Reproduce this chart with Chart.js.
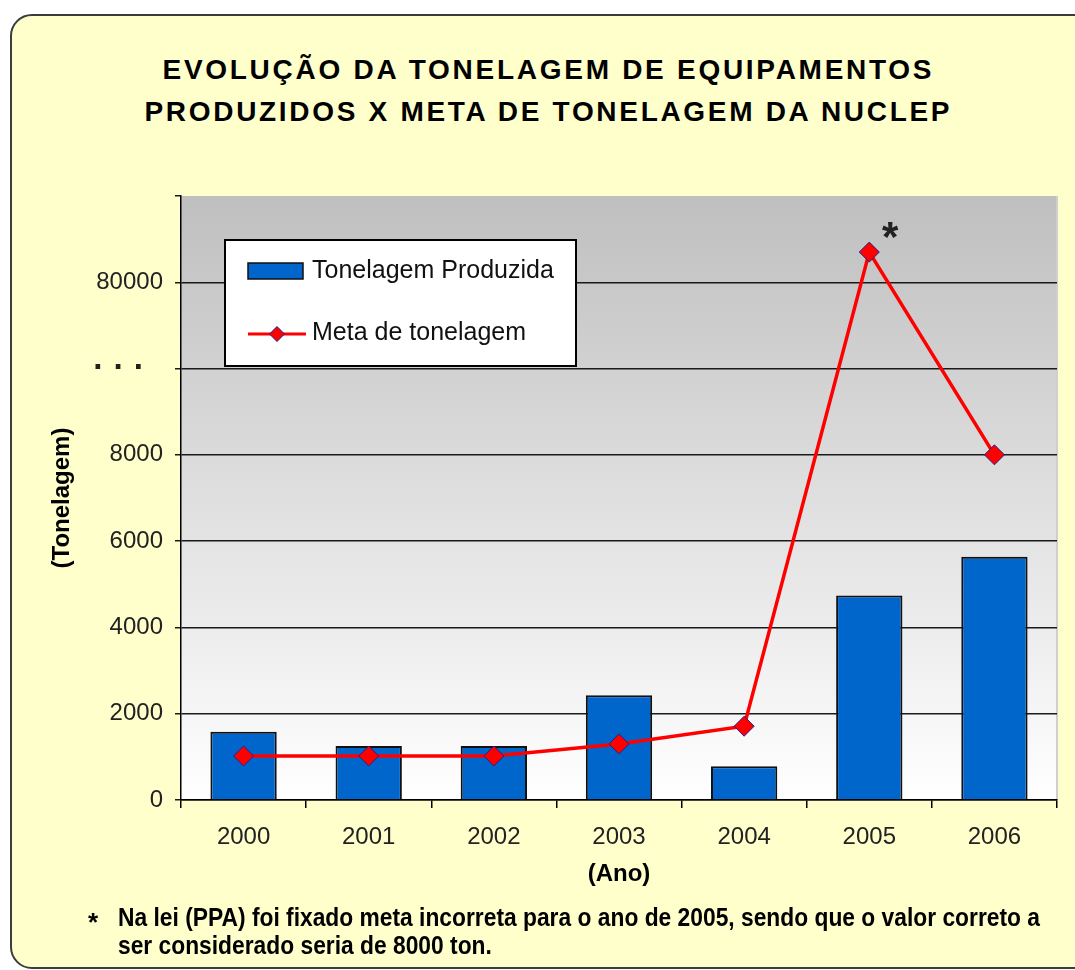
<!DOCTYPE html>
<html>
<head>
<meta charset="utf-8">
<script src="https://cdn.jsdelivr.net/npm/chart.js@4.4.1/dist/chart.umd.min.js"></script>
<style>
html,body{margin:0;padding:0;background:#fff;width:1075px;height:970px;overflow:hidden;position:relative;}
#frame{position:absolute;left:10px;top:14px;width:1090px;height:955px;box-sizing:border-box;border:2px solid #3c3c3c;border-radius:22px;background:#FFFFCC;}
#c{position:absolute;left:0;top:0;}
.txt{position:absolute;white-space:nowrap;line-height:1;color:#000;}
.title{font:bold 28px "Liberation Sans",Arial,sans-serif;}
.note{font:bold 26px "Liberation Sans Narrow","Arial Narrow","Liberation Sans",Arial,sans-serif;transform-origin:0 50%;}
</style>
</head>
<body>
<div id="frame"></div>
<div id="t1" class="txt title">EVOLUÇÃO DA TONELAGEM DE EQUIPAMENTOS</div>
<div id="t2" class="txt title">PRODUZIDOS X META DE TONELAGEM DA NUCLEP</div>
<canvas id="c" width="1075" height="970"></canvas>
<div id="nstar" class="txt note">*</div>
<div id="n1" class="txt note">Na lei (PPA) foi fixado meta incorreta para o ano de 2005, sendo que o valor correto a</div>
<div id="n2" class="txt note">ser considerado seria de 8000 ton.</div>
<script>
// ---- data ----
const years = ['2000', '2001', '2002', '2003', '2004', '2005', '2006'];
const producedTons = [1580, 1250, 1250, 2430, 780, 4740, 5640];
const targetTons = [1020, 1020, 1020, 1300, 1710, 87000, 8000];
const annotatedYear = '2005';
// broken axis: values above the break are shown on a compressed segment
const breakTickLabels = {10000: '· · ·\u00a0\u00a0', 12000: '80000', 14000: ''};

function toAxis(v) { return v <= 10000 ? v : 12000 + (v - 80000) / 10; }

const FAM = '"Liberation Sans", Arial, sans-serif';
Chart.defaults.font.family = FAM;

// ---- html text placement ----
function placeSpaced(el, target, cx, cy) {
  el.style.letterSpacing = '0px';
  const w = el.getBoundingClientRect().width;
  const n = el.textContent.length;
  const ls = (target - w) / (n - 1);
  el.style.letterSpacing = ls + 'px';
  el.style.left = (cx - target / 2) + 'px';
  el.style.top = (cy - el.getBoundingClientRect().height / 2) + 'px';
}
placeSpaced(document.getElementById('t1'), 769, 547, 70);
placeSpaced(document.getElementById('t2'), 805, 547, 112);

const n1 = document.getElementById('n1'), n2 = document.getElementById('n2'), ns = document.getElementById('nstar');
const sc = 922 / n1.getBoundingClientRect().width;
[n1, n2].forEach((el, i) => {
  el.style.left = '118px';
  el.style.top = ((i === 0 ? 917 : 945) - el.getBoundingClientRect().height / 2) + 'px';
  el.style.transform = 'scaleX(' + sc + ')';
});
ns.style.left = '88px';
ns.style.top = (922 - ns.getBoundingClientRect().height / 2) + 'px';

// ---- plugins ----
const plotBg = {
  id: 'plotBg',
  beforeDraw(chart) {
    const {ctx, chartArea: a} = chart;
    const g = ctx.createLinearGradient(0, a.top, 0, a.bottom);
    g.addColorStop(0, '#bfbfbf');
    g.addColorStop(1, '#ffffff');
    ctx.save();
    ctx.fillStyle = g;
    ctx.fillRect(a.left, a.top, a.right - a.left, a.bottom - a.top);
    ctx.strokeStyle = '#cfcfcf';
    ctx.lineWidth = 2;
    ctx.beginPath();
    ctx.moveTo(a.right, a.top);
    ctx.lineTo(a.right, a.bottom);
    ctx.stroke();
    ctx.restore();
  }
};

const boxLegend = {
  id: 'boxLegend',
  afterDraw(chart) {
    const {ctx, chartArea: a} = chart;
    const x = a.left + 44, y = a.top + 44, w = 351, h = 126;
    const d0 = chart.data.datasets[0], d1 = chart.data.datasets[1];
    ctx.save();
    ctx.fillStyle = '#ffffff';
    ctx.fillRect(x, y, w, h);
    ctx.strokeStyle = '#000';
    ctx.lineWidth = 2;
    ctx.strokeRect(x, y, w, h);
    // bar swatch
    ctx.fillStyle = d0.backgroundColor;
    ctx.fillRect(x + 23, y + 23, 55, 16);
    ctx.lineWidth = 1.5;
    ctx.strokeStyle = d0.borderColor;
    ctx.strokeRect(x + 23, y + 23, 55, 16);
    // line swatch
    const ly = y + 94;
    ctx.strokeStyle = d1.borderColor;
    ctx.lineWidth = 3;
    ctx.beginPath();
    ctx.moveTo(x + 23, ly);
    ctx.lineTo(x + 81, ly);
    ctx.stroke();
    const cx = x + 52, r = 7.5;
    ctx.beginPath();
    ctx.moveTo(cx, ly - r); ctx.lineTo(cx + r, ly); ctx.lineTo(cx, ly + r); ctx.lineTo(cx - r, ly); ctx.closePath();
    ctx.fillStyle = d1.pointBackgroundColor;
    ctx.fill();
    ctx.lineWidth = 1;
    ctx.strokeStyle = d1.pointBorderColor;
    ctx.stroke();
    // texts
    ctx.fillStyle = '#111';
    ctx.font = '25px ' + FAM;
    ctx.textBaseline = 'middle';
    ctx.textAlign = 'left';
    ctx.fillText(d0.label, x + 87, y + 31);
    ctx.fillText(d1.label, x + 87, y + 93);
    ctx.restore();
  }
};

const starMark = {
  id: 'starMark',
  afterDatasetsDraw(chart) {
    const idx = years.indexOf(annotatedYear);
    const pt = chart.getDatasetMeta(1).data[idx];
    if (!pt) return;
    const ctx = chart.ctx;
    ctx.save();
    ctx.fillStyle = '#222';
    ctx.font = 'bold 42px ' + FAM;
    ctx.textAlign = 'center';
    ctx.textBaseline = 'alphabetic';
    ctx.fillText('*', pt.x + 21, pt.y - 1);
    ctx.restore();
  }
};

new Chart(document.getElementById('c'), {
  type: 'bar',
  data: {
    labels: years,
    datasets: [
      {
        type: 'bar',
        label: 'Tonelagem Produzida',
        data: producedTons,
        backgroundColor: '#0066CC',
        borderColor: '#111111',
        borderWidth: 2,
        barPercentage: 0.53,
        categoryPercentage: 1,
        order: 2
      },
      {
        type: 'line',
        label: 'Meta de tonelagem',
        data: targetTons.map(toAxis),
        borderColor: '#FF0000',
        borderWidth: 3.5,
        pointStyle: 'rectRot',
        pointRadius: 10,
        pointBackgroundColor: '#FF0000',
        pointBorderColor: '#20208a',
        pointBorderWidth: 1,
        tension: 0,
        order: 1
      }
    ]
  },
  options: {
    responsive: false,
    animation: false,
    devicePixelRatio: 1,
    layout: {padding: {left: 40, right: 18, top: 196, bottom: 80}},
    plugins: {legend: {display: false}, tooltip: {enabled: false}, title: {display: false}},
    scales: {
      x: {
        offset: true,
        grid: {offset: true, drawOnChartArea: false, drawTicks: true, tickLength: 8, tickColor: '#000', lineWidth: 1.5},
        border: {color: '#000', width: 1.5},
        ticks: {padding: 15, color: '#222', font: {size: 24}},
        title: {display: true, text: '(Ano)', color: '#000', font: {size: 24, weight: 'bold'}, padding: {top: 0, bottom: 1}},
        afterFit(s) { s.height = 90; }
      },
      y: {
        min: 0,
        max: 14000,
        ticks: {
          stepSize: 2000,
          padding: 12,
          color: '#222',
          callback: (v) => (v in breakTickLabels) ? breakTickLabels[v] : String(v),
          font: (c) => (c.tick && c.tick.value === 10000) ? {size: 33, weight: 'bold'} : {size: 24}
        },
        grid: {
          color: (c) => (c.tick && c.tick.value === 14000) ? 'rgba(0,0,0,0)' : '#1a1a1a',
          lineWidth: 1.5,
          tickColor: '#1a1a1a',
          tickLength: 6
        },
        border: {color: '#000', width: 1.5},
        title: {display: true, text: '(Tonelagem)', color: '#000', font: {size: 24, weight: 'bold'}, padding: {top: 8, bottom: 0}},
        afterFit(s) { s.width = 141; }
      }
    }
  },
  plugins: [plotBg, boxLegend, starMark]
});
</script>
</body>
</html>
